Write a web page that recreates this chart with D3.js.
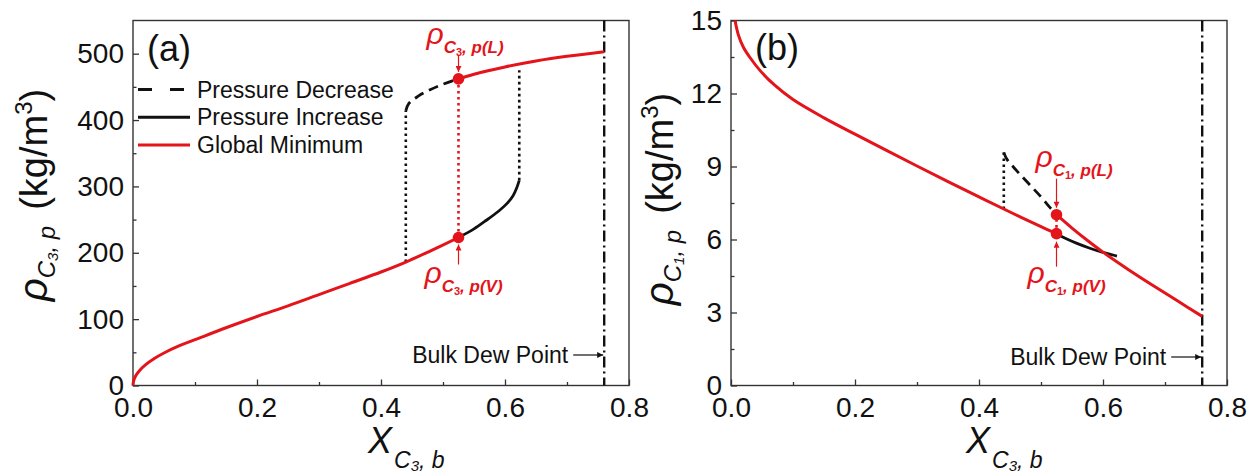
<!DOCTYPE html>
<html>
<head>
<meta charset="utf-8">
<script src="https://cdn.jsdelivr.net/npm/d3@7"></script>
<style>
  body { margin: 0; background: #fff; }
  svg { display: block; }
  text { font-family: "Liberation Sans", Arial, Helvetica, sans-serif; }
</style>
</head>
<body>
<svg id="chart" width="1258" height="475"></svg>
<script>
// ---- axis ticks -------------------------------------------------------
const xTicks = [0, 0.2, 0.4, 0.6, 0.8];
const xMinorTicks = [0.1, 0.3, 0.5, 0.7];
const yTicksA = [0, 100, 200, 300, 400, 500];
const yMinorTicksA = [50, 150, 250, 350, 450];
const yTicksB = [0, 3, 6, 9, 12, 15];
const yMinorTicksB = [1.5, 4.5, 7.5, 10.5, 13.5];

// ---- characteristic compositions (bulk C3 mole fraction) --------------
const dewPointX = 0.76;
const transitionX = 0.525;
const spinodalLowX = 0.44;
const spinodalHighX = 0.623;

// ---- (a) C3 density in the pore, kg/m3 --------------------------------
const vapBranchXA = [0, 0.001, 0.004, 0.01, 0.02, 0.035, 0.05, 0.075, 0.1, 0.15, 0.2, 0.25, 0.3, 0.35, 0.4, 0.44, 0.48, 0.525];
const vapBranchRhoA = [0, 7, 14, 22, 31, 41, 49, 60, 69, 87, 104, 120, 137, 154, 171, 186, 203, 223];
const liqBranchXA = [0.525, 0.55, 0.6, 0.65, 0.7, 0.76];
const liqBranchRhoA = [462, 469, 480, 489, 496, 503];
const decreaseXA = [0.44, 0.445, 0.46, 0.48, 0.5, 0.525];
const decreaseRhoA = [414, 425, 436, 446, 454, 462];
const increaseXA = [0.525, 0.55, 0.57, 0.59, 0.603, 0.613, 0.619, 0.623];
const increaseRhoA = [223, 236, 249, 263, 274, 286, 298, 309];
const jumpLowA = [186, 414];     // at spinodalLowX
const jumpHighA = [309, 475];    // at spinodalHighX
const coexistA = [223, 462];     // vapour / liquid at transitionX

// ---- (b) C1 density in the pore, kg/m3 --------------------------------
const vapBranchXB = [0.0065, 0.012, 0.02, 0.03, 0.047, 0.07, 0.1, 0.15, 0.2, 0.25, 0.3, 0.35, 0.4, 0.45, 0.5, 0.525];
const vapBranchRhoB = [15, 14.4, 13.9, 13.5, 12.94, 12.35, 11.75, 11.0, 10.33, 9.67, 9.02, 8.38, 7.75, 7.13, 6.53, 6.24];
const liqBranchXB = [0.525, 0.55, 0.575, 0.6, 0.64, 0.68, 0.72, 0.76];
const liqBranchRhoB = [7.02, 6.47, 5.96, 5.48, 4.78, 4.12, 3.48, 2.84];
const decreaseXB = [0.44, 0.445, 0.46, 0.48, 0.5, 0.515, 0.525];
const decreaseRhoB = [9.58, 9.3, 8.85, 8.3, 7.75, 7.3, 7.02];
const increaseXB = [0.525, 0.54, 0.558, 0.58, 0.6, 0.615, 0.6225];
const increaseRhoB = [6.24, 6.04, 5.84, 5.63, 5.47, 5.37, 5.32];
const jumpLowB = [7.25, 9.6];
const coexistB = [6.24, 7.02];

// ---- legend -----------------------------------------------------------
const legendLabels = ["Pressure Decrease", "Pressure Increase", "Global Minimum"];

const RED = "#e4141b";
const INK = "#111";
const AXIS = "#333";
const FONT = '"Liberation Sans", Arial, Helvetica, sans-serif';

const svg = d3.select("#chart");

// arrow heads
const defs = svg.append("defs");
function marker(id, color, w, h) {
  defs.append("marker")
    .attr("id", id).attr("viewBox", "0 0 10 10")
    .attr("refX", 10).attr("refY", 5)
    .attr("markerWidth", w).attr("markerHeight", h)
    .attr("markerUnits", "userSpaceOnUse")
    .attr("orient", "auto")
    .append("path").attr("d", "M0,0 L10,5 L0,10 Z").attr("fill", color);
}
marker("arrRed", RED, 7, 6);
marker("arrBlack", INK, 8, 6);

const zip = (xs, ys) => xs.map((x, i) => [x, ys[i]]);

function drawPanel(cfg) {
  const x = d3.scaleLinear().domain([0, 0.8]).range([cfg.left, cfg.left + 496]);
  const y = d3.scaleLinear().domain(cfg.yDomain).range([385.5, 20.5]);
  const g = svg.append("g");

  // axes: inward ticks, labels outside
  const styleAxis = sel => {
    sel.select(".domain").remove();
    sel.selectAll(".tick line").attr("stroke", AXIS).attr("stroke-width", 1.3);
    sel.selectAll(".tick text").attr("fill", INK).style("font-family", FONT).style("font-size", "28px");
  };
  g.append("g").attr("transform", `translate(0,${y.range()[0]})`)
    .call(d3.axisBottom(x).tickValues(xTicks).tickFormat(d3.format(".1f")).tickSize(-6).tickPadding(12))
    .call(styleAxis);
  g.append("g").attr("transform", `translate(0,${y.range()[0]})`)
    .call(d3.axisBottom(x).tickValues(xMinorTicks).tickFormat("").tickSize(-3.5))
    .call(styleAxis);
  g.append("g").attr("transform", `translate(${cfg.left},0)`)
    .call(d3.axisLeft(y).tickValues(cfg.yTicks).tickFormat(d3.format("d")).tickSize(-6).tickPadding(9))
    .call(styleAxis);
  g.append("g").attr("transform", `translate(${cfg.left},0)`)
    .call(d3.axisLeft(y).tickValues(cfg.yMinor).tickFormat("").tickSize(-3.5))
    .call(styleAxis);

  // frame
  g.append("rect")
    .attr("x", x.range()[0]).attr("y", y.range()[1])
    .attr("width", x.range()[1] - x.range()[0]).attr("height", y.range()[0] - y.range()[1])
    .attr("fill", "none").attr("stroke", AXIS).attr("stroke-width", 1.4);

  const line = d3.line().x(d => x(d[0])).y(d => y(d[1])).curve(d3.curveCatmullRom.alpha(0.5));

  // dew point marker line
  g.append("line")
    .attr("x1", x(dewPointX)).attr("x2", x(dewPointX))
    .attr("y1", y.range()[1]).attr("y2", y.range()[0])
    .attr("stroke", INK).attr("stroke-width", 2.4).attr("stroke-dasharray", "11,4,2,4");

  // metastable jumps
  cfg.jumps.forEach(j => {
    g.append("line")
      .attr("x1", x(j.x)).attr("x2", x(j.x))
      .attr("y1", y(j.range[0])).attr("y2", y(j.range[1]))
      .attr("stroke", j.color).attr("stroke-width", 2.6).attr("stroke-dasharray", "2.6,3.4");
  });

  // branches
  g.append("path").attr("d", line(cfg.decrease)).attr("fill", "none")
    .attr("stroke", INK).attr("stroke-width", 2.8).attr("stroke-dasharray", "10,6");
  g.append("path").attr("d", line(cfg.increase)).attr("fill", "none")
    .attr("stroke", INK).attr("stroke-width", 2.8);
  g.append("path").attr("d", line(cfg.vap)).attr("fill", "none")
    .attr("stroke", RED).attr("stroke-width", 3);
  g.append("path").attr("d", line(cfg.liq)).attr("fill", "none")
    .attr("stroke", RED).attr("stroke-width", 3);

  // coexisting densities with labels
  cfg.dots.forEach(dt => {
    const cx = x(transitionX), cy = y(dt.value);
    g.append("circle").attr("cx", cx).attr("cy", cy).attr("r", 5.8).attr("fill", RED);
    g.append("line")
      .attr("x1", cx).attr("x2", cx)
      .attr("y1", cy + dt.arrow[0]).attr("y2", cy + dt.arrow[1])
      .attr("stroke", RED).attr("stroke-width", 1.2).attr("marker-end", "url(#arrRed)");
    const t = g.append("text").attr("x", cx + dt.label[0]).attr("y", cy + dt.label[1]).attr("fill", RED);
    t.append("tspan").attr("font-style", "italic").attr("font-size", 30).text("ρ");
    t.append("tspan").attr("font-style", "italic").attr("font-weight", "bold").attr("font-size", 17).attr("dy", 9).text("C");
    t.append("tspan").attr("font-weight", "bold").attr("font-size", 11).attr("dy", 3).text(cfg.comp);
    t.append("tspan").attr("font-style", "italic").attr("font-weight", "bold").attr("font-size", 17).attr("dy", -3).text(`, p(${dt.phase})`);
  });

  // bulk dew point note
  const dx = x(dewPointX);
  g.append("text").attr("x", dx - 36).attr("y", cfg.dewY).attr("text-anchor", "end")
    .attr("font-size", 23).attr("fill", INK).text("Bulk Dew Point");
  g.append("line").attr("x1", dx - 31).attr("x2", dx - 1)
    .attr("y1", cfg.dewY - 8).attr("y2", cfg.dewY - 8)
    .attr("stroke", INK).attr("stroke-width", 1.2).attr("marker-end", "url(#arrBlack)");

  // panel tag
  g.append("text").attr("x", cfg.left + cfg.tag[0]).attr("y", cfg.tag[1])
    .attr("font-size", 36).attr("fill", INK).text(cfg.tagText);

  // x title
  const xt = g.append("text").attr("x", cfg.left + 235).attr("y", 453).attr("fill", INK);
  xt.append("tspan").attr("font-style", "italic").attr("font-size", 36).text("X");
  xt.append("tspan").attr("font-style", "italic").attr("font-size", 23).attr("dy", 15).attr("dx", 2).text("C");
  xt.append("tspan").attr("font-style", "italic").attr("font-size", 15).attr("dy", 3).text("3");
  xt.append("tspan").attr("font-style", "italic").attr("font-size", 23).attr("dy", -3).text(", b");

  // y title
  const yt = g.append("text")
    .attr("transform", `translate(${cfg.yTitle[0]},${cfg.yTitle[1]}) rotate(-90)`)
    .attr("text-anchor", "middle").attr("fill", INK);
  yt.append("tspan").attr("font-style", "italic").attr("font-size", 40).text("ρ");
  yt.append("tspan").attr("font-style", "italic").attr("font-size", 24).attr("dy", 8).text("C");
  yt.append("tspan").attr("font-style", "italic").attr("font-size", 15).attr("dy", 3).text(cfg.comp);
  yt.append("tspan").attr("font-style", "italic").attr("font-size", 24).attr("dy", -3).text(", p");
  yt.append("tspan").attr("font-size", 38).attr("dy", -8).attr("dx", 16).text("(kg/m");
  yt.append("tspan").attr("font-size", 24).attr("dy", -15).text("3");
  yt.append("tspan").attr("font-size", 38).attr("dy", 15).text(")");

  return { x, y, g };
}

// ---- panel (a) --------------------------------------------------------
const pa = drawPanel({
  left: 133, yDomain: [0, 550], yTicks: yTicksA, yMinor: yMinorTicksA, comp: "3",
  vap: zip(vapBranchXA, vapBranchRhoA), liq: zip(liqBranchXA, liqBranchRhoA),
  decrease: zip(decreaseXA, decreaseRhoA), increase: zip(increaseXA, increaseRhoA),
  jumps: [
    { x: spinodalLowX, range: jumpLowA, color: INK },
    { x: spinodalHighX, range: jumpHighA, color: INK },
    { x: transitionX, range: coexistA, color: RED }
  ],
  dots: [
    { value: coexistA[1], phase: "L", label: [-32, -35], arrow: [-24, -7] },
    { value: coexistA[0], phase: "V", label: [-34, 45], arrow: [27, 7] }
  ],
  dewY: 363, tag: [14, 61], tagText: "(a)", yTitle: [47, 195]
});

// legend in (a)
const legendStyles = [
  { stroke: INK, dash: "14,18" },
  { stroke: INK, dash: null },
  { stroke: RED, dash: null }
];
legendLabels.forEach((lab, i) => {
  const yy = 89.5 + i * 27.8;
  pa.g.append("line").attr("x1", 138).attr("x2", 190).attr("y1", yy).attr("y2", yy)
    .attr("stroke", legendStyles[i].stroke).attr("stroke-width", 3)
    .attr("stroke-dasharray", legendStyles[i].dash);
  pa.g.append("text").attr("x", 197).attr("y", yy + 8).attr("font-size", 23)
    .attr("fill", INK).text(lab);
});

// ---- panel (b) --------------------------------------------------------
drawPanel({
  left: 731, yDomain: [0, 15], yTicks: yTicksB, yMinor: yMinorTicksB, comp: "1",
  vap: zip(vapBranchXB, vapBranchRhoB), liq: zip(liqBranchXB, liqBranchRhoB),
  decrease: zip(decreaseXB, decreaseRhoB), increase: zip(increaseXB, increaseRhoB),
  jumps: [
    { x: spinodalLowX, range: jumpLowB, color: INK },
    { x: transitionX, range: coexistB, color: RED }
  ],
  dots: [
    { value: coexistB[1], phase: "L", label: [-21, -48], arrow: [-36, -7] },
    { value: coexistB[0], phase: "V", label: [-29, 49], arrow: [33, 8] }
  ],
  dewY: 365, tag: [24, 60], tagText: "(b)", yTitle: [673, 199]
});
</script>
</body>
</html>
